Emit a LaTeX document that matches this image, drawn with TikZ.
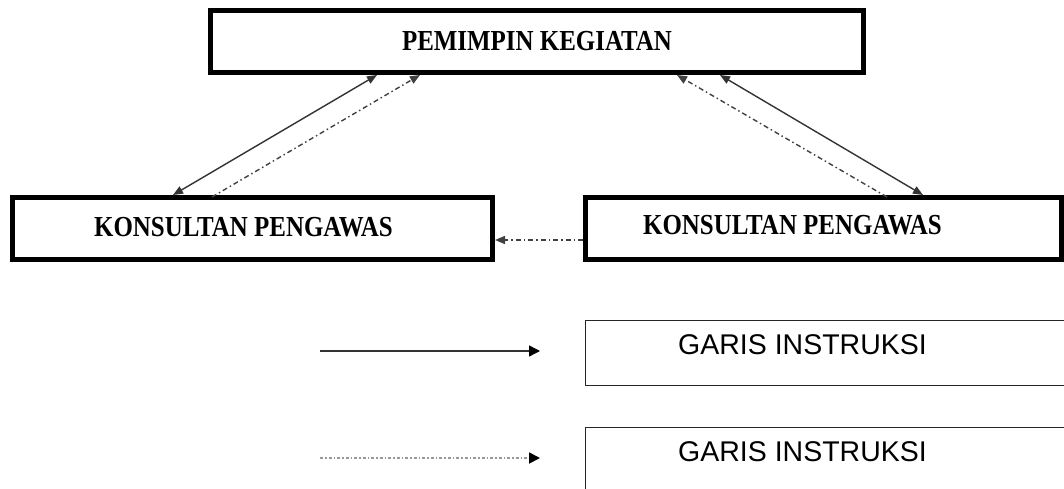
\documentclass[tikz,border=0pt]{standalone}
\usepackage{fontspec}
\usetikzlibrary{arrows.meta}
\newfontfamily\boxfont{Liberation Serif}
\newfontfamily\legfont{Liberation Sans}
\tikzset{
  mytip/.tip={Triangle[length=10pt,width=8pt]},
  legtip/.tip={Triangle[length=11pt,width=11pt,fill=black,color=black]},
  bigbox/.style={draw=black,line width=5pt,inner sep=0pt,minimum height=62pt},
  legbox/.style={draw=black!85,line width=1.3pt,inner sep=0pt},
  boxtext/.style={font=\boxfont\bfseries\fontsize{29}{30}\selectfont,inner sep=0pt},
  legtext/.style={font=\legfont\fontsize{28.5}{30}\selectfont,inner sep=0pt,anchor=west},
  solidline/.style={draw=black!80,line width=1.4pt},
  dashdotline/.style={draw=black!75,line width=1.4pt,dash pattern=on 5pt off 3pt on 1.5pt off 3pt},
  legdotted/.style={draw=black!40,line width=1.8pt,dash pattern=on 3pt off 2pt on 1.5pt off 2pt}
}
\newcommand{\cond}[1]{\scalebox{0.86}[1]{#1}}
\begin{document}
\begin{tikzpicture}[x=1pt,y=-1pt]
\useasboundingbox (0,0) rectangle (1064,489);
\clip (0,0) rectangle (1064,489);
% main boxes
\node[bigbox,minimum width=653pt] (top) at (537,41.5) {};
\node[boxtext] (toptext) at (537,41.5) {\cond{PEMIMPIN KEGIATAN}};
\node[bigbox,minimum width=480pt] (left) at (252.5,228.5) {};
\node[boxtext] (lefttext) at (243.5,227.5) {\cond{KONSULTAN PENGAWAS}};
\node[bigbox,minimum width=476pt] (right) at (823.5,228.5) {};
\node[boxtext] (righttext) at (792.5,225) {\cond{KONSULTAN PENGAWAS}};
% connectors
\draw[solidline,mytip-mytip] ([xshift=169pt]top.south west) -- ([xshift=163pt]left.north west);
\draw[dashdotline,-mytip] ([xshift=202pt,yshift=-2pt]left.north west) -- ([xshift=212pt]top.south west);
\draw[dashdotline,-mytip] ([xshift=304pt,yshift=-2pt]right.north west) -- ([xshift=469pt]top.south west);
\draw[solidline,mytip-mytip] ([xshift=512pt]top.south west) -- ([xshift=340pt]right.north west);
\draw[dashdotline,-mytip] ([yshift=-11.5pt]right.west) -- ([yshift=-11.5pt]left.east);
% legend
\node[legbox,minimum width=540pt,minimum height=65pt,anchor=north west] (leg1) at (584.5,319.5) {};
\node[legtext] (leg1text) at (678,345) {GARIS INSTRUKSI};
\node[legbox,minimum width=540pt,minimum height=100pt,anchor=north west] (leg2) at (584.5,426.5) {};
\node[legtext] (leg2text) at (678,451.7) {GARIS INSTRUKSI};
\coordinate (a1s) at (320,351);
\coordinate (a1e) at (540,351);
\coordinate (a2s) at (320,458);
\coordinate (a2e) at (540,458);
\draw[solidline,-legtip] (a1s) -- (a1e);
\draw[legdotted,-legtip] (a2s) -- (a2e);
\end{tikzpicture}
\end{document}
